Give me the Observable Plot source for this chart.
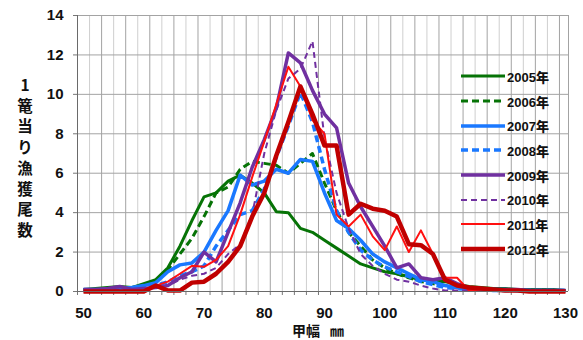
<!DOCTYPE html>
<html><head><meta charset="utf-8">
<script src="https://cdn.jsdelivr.net/npm/d3@7"></script>
<script src="https://cdn.jsdelivr.net/npm/@observablehq/plot@0.6"></script>
<style>
body{margin:0;background:#fff;}
#wrap{position:relative;width:583px;height:340px;font-family:"Noto Sans CJK JP","Noto Sans",sans-serif;}
#ytitle{position:absolute;left:14px;top:74px;width:22px;text-align:center;font-weight:bold;font-size:15.5px;line-height:20.7px;color:#111;}
#xtitle{position:absolute;left:292px;top:319.6px;font-weight:bold;font-size:14px;line-height:20px;color:#111;white-space:nowrap;}
#legend{position:absolute;left:461px;top:64px;}
.row{display:flex;align-items:center;height:24.7px;}
.row span{font-family:"Liberation Sans",sans-serif;font-weight:bold;font-size:13px;color:#111;margin-left:2px;}
.row span b{font-family:"Noto Sans CJK JP",sans-serif;}
</style></head><body>
<div id="wrap"></div>
<script>
// shell width (mm), every 2 mm from 50 to 130
const lengths = d3.range(50, 131, 2);
const yTicks = [0, 2, 4, 6, 8, 10, 12, 14];
const xTicks = [50, 60, 70, 80, 90, 100, 110, 120, 130];
const yearNames = ["2005年","2006年","2007年","2008年","2009年","2010年","2011年","2012年"];

const y2005 = [0.1,0.15,0.2,0.25,0.2,0.4,0.6,1.2,2.3,3.6,4.8,5.0,5.6,5.9,5.5,5.0,4.05,4.0,3.2,3.0,2.6,2.2,1.8,1.4,1.2,1.0,0.9,0.75,0.6,0.55,0.5,0.35,0.25,0.2,0.15,0.15,0.1,0.1,0.1,0.1,0.05];
const y2006 = [0.1,0.1,0.1,0.15,0.2,0.3,0.5,1.1,1.9,2.7,3.8,5.0,5.3,6.2,6.6,6.5,6.4,6.0,6.5,7.0,5.5,4.1,3.0,2.3,1.6,1.2,0.9,0.7,0.5,0.4,0.3,0.2,0.15,0.1,0.1,0.1,0.1,0.05,0.05,0.05,0.05];
const y2007 = [0.1,0.1,0.1,0.15,0.2,0.3,0.45,1.0,1.35,1.45,2.0,3.1,4.1,5.9,5.4,5.6,6.2,6.0,6.7,6.6,5.0,3.6,3.2,2.6,1.9,1.5,1.2,0.9,0.6,0.5,0.3,0.2,0.15,0.1,0.1,0.1,0.05,0.05,0.05,0.05,0.05];
const y2008 = [0.05,0.05,0.1,0.1,0.1,0.2,0.3,0.5,0.8,1.0,1.3,2.3,3.1,3.9,4.1,5.2,6.8,8.4,10.1,8.6,6.2,4.1,3.0,2.1,1.6,1.25,1.0,0.75,0.5,0.35,0.2,0.15,0.1,0.1,0.05,0.05,0.05,0.05,0.05,0.05,0.05];
const y2009 = [0.1,0.1,0.15,0.25,0.1,0.15,0.2,0.3,0.7,1.0,2.0,1.5,3.0,4.5,6.3,7.7,9.3,12.1,11.6,10.2,9.0,8.3,5.5,4.3,3.3,2.3,1.2,1.4,0.7,0.6,0.7,0.4,0.2,0.15,0.1,0.1,0.1,0.05,0.05,0.05,0.05];
const y2010 = [0.05,0.05,0.05,0.1,0.1,0.1,0.2,0.3,0.6,0.8,0.9,1.2,1.9,2.4,3.9,7.0,9.2,10.8,11.3,12.7,7.8,5.0,3.2,1.9,1.3,0.9,0.6,0.5,0.3,0.15,0.05,0.05,0.05,0.05,0.05,0.05,0.05,0.05,0.05,0.05,0.05];
const y2011 = [0,0,0,0,0,0.05,0.3,0.5,0.9,1.3,1.25,1.6,2.3,3.9,5.8,7.6,9.5,11.4,10.4,8.7,8.0,3.9,3.3,3.9,2.8,2.1,3.3,2.0,3.1,1.9,0.7,0.7,0.05,0.1,0.1,0.05,0.05,0,0,0,0];
const y2012 = [0,0,0,0,0,0,0.3,0.05,0.05,0.45,0.5,0.9,1.5,2.3,3.8,5.0,6.9,8.6,10.4,9.0,7.4,7.4,3.9,4.45,4.2,4.1,3.8,2.4,2.35,1.9,0.6,0.3,0.2,0.15,0.1,0.05,0.05,0,0,0,0];

const seriesValues = [y2005,y2006,y2007,y2008,y2009,y2010,y2011,y2012];
const styles = [
  {stroke:"#067306", w:3, dash:null},
  {stroke:"#067306", w:3, dash:"7,4"},
  {stroke:"#1a78ff", w:3.5, dash:null},
  {stroke:"#1a78ff", w:3.5, dash:"7,4"},
  {stroke:"#7030a0", w:3.5, dash:null},
  {stroke:"#7030a0", w:2, dash:"6,4"},
  {stroke:"#ff1010", w:2, dash:null},
  {stroke:"#c00000", w:4.5, dash:null}
];

const gridOdd = d3.range(51, 130, 2);
const gridLight = gridOdd.filter((d,i) => i % 2 === 0);
const gridDark = gridOdd.filter((d,i) => i % 2 === 1);

const lineMarks = seriesValues.map((vals, k) => Plot.line(
  lengths.map((x, i) => ({x, y: vals[i]})),
  {x: "x", y: "y", stroke: styles[k].stroke, strokeWidth: styles[k].w,
   strokeDasharray: styles[k].dash, strokeLinejoin: "round", strokeLinecap: "butt"}
));

const tickFont = "'Liberation Sans', sans-serif";
const chart = Plot.plot({
  width: 583, height: 340,
  marginLeft: 77, marginRight: 15, marginTop: 15, marginBottom: 49,
  style: {fontFamily: tickFont, background: "#fff", overflow: "visible"},
  x: {domain: [49, 130.5], label: null},
  y: {domain: [0, 14], label: null},
  marks: [
    Plot.ruleX(gridLight, {stroke: "#cfcfcf", strokeWidth: 1}),
    Plot.ruleX(gridDark, {stroke: "#a3a3a3", strokeWidth: 1}),
    Plot.ruleX([130.5], {stroke: "#a3a3a3", strokeWidth: 1}),
    Plot.ruleY(yTicks.slice(1), {stroke: "#a3a3a3", strokeWidth: 1}),
    Plot.axisX({ticks: gridOdd.concat([49]), tickFormat: () => "", tickSize: 4, stroke: "#777"}),
    Plot.axisX({ticks: xTicks, tickSize: 0, tickPadding: 15.5, fontSize: 15, fontWeight: "bold", fill: "#111", fontFamily: tickFont}),
    Plot.axisY({ticks: yTicks, tickSize: 4, tickPadding: 10, fontSize: 15, fontWeight: "bold", fill: "#111", stroke: "#777", fontFamily: tickFont}),
    ...lineMarks,
    Plot.ruleX([49], {stroke: "#6a6a6a", strokeWidth: 1}),
    Plot.ruleY([0], {stroke: "#6a6a6a", strokeWidth: 1})
  ]
});

const wrap = document.getElementById("wrap");
wrap.appendChild(chart);

// y title (stacked vertical)
const yt = document.createElement("div");
yt.id = "ytitle";
yt.innerHTML = ["1","篭","当","り","漁","獲","尾","数"].map(c => `<div>${c}</div>`).join("");
wrap.appendChild(yt);

// x title
const xt = document.createElement("div");
xt.id = "xtitle";
xt.innerHTML = '甲幅<span style="margin-left:10px">㎜</span>';
wrap.appendChild(xt);

// legend
const lg = document.createElement("div");
lg.id = "legend";
yearNames.forEach((name, k) => {
  const s = styles[k];
  const row = document.createElement("div");
  row.className = "row";
  const m = name.match(/^(\d+)(.*)$/);
  row.innerHTML = `<svg width="44" height="10"><line x1="0" x2="44" y1="5" y2="5" stroke="${s.stroke}" stroke-width="${s.w}" ${s.dash ? `stroke-dasharray="${s.dash}"` : ""}/></svg><span>${m[1]}<b>${m[2]}</b></span>`;
  lg.appendChild(row);
});
wrap.appendChild(lg);
</script>
</body></html>
